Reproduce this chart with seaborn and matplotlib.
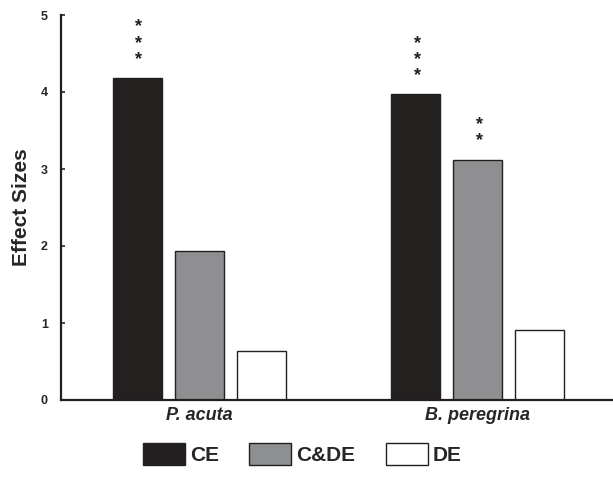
import numpy as np
import pandas as pd
import seaborn as sns
import matplotlib.pyplot as plt
from matplotlib.patches import Patch

species = ["P. acuta", "B. peregrina"]
treatments = ["CE", "C&DE", "DE"]
ce_values = [4.18, 3.97]
cde_values = [1.94, 3.12]
de_values = [0.64, 0.91]
ce_stars = [3, 3]
cde_stars = [0, 2]
de_stars = [0, 0]
colors = ["#231f20", "#8e8f93", "#ffffff"]

df = pd.DataFrame({
    "species": species * 3,
    "treatment": [t for t in treatments for _ in species],
    "effect": ce_values + cde_values + de_values,
    "stars": ce_stars + cde_stars + de_stars,
})

sns.set_style("white")
plt.rcParams['font.family'] = ['Liberation Sans', 'DejaVu Sans']

fig = plt.figure(figsize=(6.13, 4.78), dpi=100)
ax = fig.add_axes([61 / 613, 1 - 400 / 478, 552 / 613, 385 / 478])

sns.barplot(data=df, x="species", y="effect", hue="treatment",
            hue_order=treatments, order=species, palette=colors,
            width=0.668, gap=0.21, edgecolor="#231f20", linewidth=1.0,
            legend=False, ax=ax)

# significance stars stacked above bars
for cont, t in zip(ax.containers, treatments):
    sub = df[df["treatment"] == t].set_index("species").loc[species]
    for bar, n in zip(cont, sub["stars"]):
        if n == 0:
            continue
        xc = bar.get_x() + bar.get_width() / 2
        ax.annotate("\n".join(["*"] * n), (xc, bar.get_height()),
                    xytext=(1, 7.5), textcoords="offset points",
                    ha="center", va="bottom", fontsize=13, fontweight="bold",
                    linespacing=0.93, color="#231f20", annotation_clip=False)

ax.set_ylim(0, 5)
ax.set_xlim(-0.497, 1.485)
ax.set_yticks(range(6))
ax.set_xlabel("")
ax.set_ylabel("Effect Sizes", fontsize=15, fontweight="bold")
ax.yaxis.label.set_va("center")
ax.yaxis.set_label_coords(-0.0707, 0.5)
ax.tick_params(axis="y", direction="in", length=3, width=1.2, pad=9.5,
               labelsize=9, left=True)
ax.tick_params(axis="x", length=0, pad=5, labelsize=13)
for lab in ax.get_yticklabels():
    lab.set_fontweight("bold")
for lab in ax.get_xticklabels():
    lab.set_fontweight("bold")
    lab.set_fontstyle("italic")

for s in ["top", "right"]:
    ax.spines[s].set_visible(False)
for s in ["left", "bottom"]:
    ax.spines[s].set_linewidth(1.6)
    ax.spines[s].set_color("#231f20")

handles = [Patch(facecolor=c, edgecolor="#231f20", linewidth=1.0) for c in colors]
fig.legend(handles, treatments, loc="center", bbox_to_anchor=(0.493, 0.05),
           ncol=3, frameon=False, handlelength=2.02, handleheight=1.3,
           handletextpad=0.25, columnspacing=1.45,
           prop={"weight": "bold", "size": 15})

fig.savefig("out.png", dpi=100)
